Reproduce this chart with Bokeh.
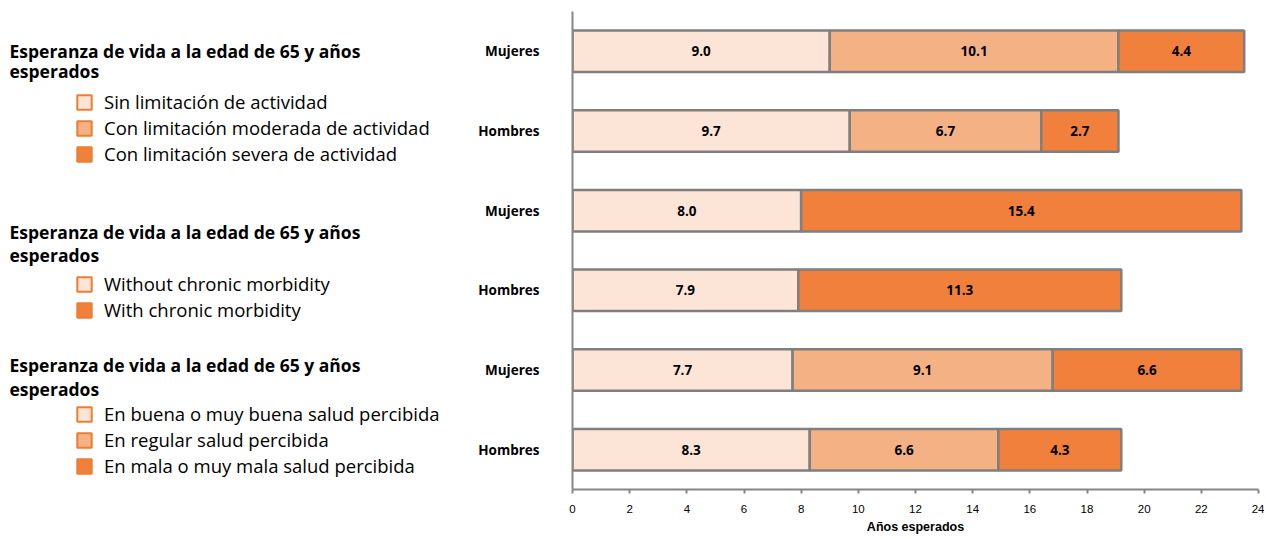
import numpy as np
from bokeh.plotting import figure
from bokeh.layouts import row
from bokeh.models import (ColumnDataSource, Label, Legend, LegendItem,
                          FixedTicker, Range1d)
from bokeh.core.properties import value
from bokeh.embed import file_html
from bokeh.resources import INLINE

# ---------------- data ----------------
LIGHT = "#FCE4D6"
MEDIUM = "#F4B183"
DARK = "#F0803C"
SWATCH_BORDER = "#ED7D31"
BAR_BORDER = "#7F7F7F"

group_title = ["Esperanza de vida a la edad de 65 y años", "esperados"]
sexes = ["Mujeres", "Hombres"]

act_labels = ["Sin limitación de actividad",
              "Con limitación moderada de actividad",
              "Con limitación severa de actividad"]
act_colors = [LIGHT, MEDIUM, DARK]
act_mujeres = [9.0, 10.1, 4.4]
act_hombres = [9.7, 6.7, 2.7]

chr_labels = ["Without chronic morbidity", "With chronic morbidity"]
chr_colors = [LIGHT, DARK]
chr_mujeres = [8.0, 15.4]
chr_hombres = [7.9, 11.3]

sal_labels = ["En buena o muy buena salud percibida",
              "En regular salud percibida",
              "En mala o muy mala salud percibida"]
sal_colors = [LIGHT, MEDIUM, DARK]
sal_mujeres = [7.7, 9.1, 6.6]
sal_hombres = [8.3, 6.6, 4.3]

x_ticks = list(range(0, 25, 2))
x_title = "Años esperados"

# ---------------- build rows ----------------
rows = [
    (sexes[0], act_mujeres, act_colors),
    (sexes[1], act_hombres, act_colors),
    (sexes[0], chr_mujeres, chr_colors),
    (sexes[1], chr_hombres, chr_colors),
    (sexes[0], sal_mujeres, sal_colors),
    (sexes[1], sal_hombres, sal_colors),
]
n = len(rows)
seg = dict(y=[], left=[], right=[], mid=[], color=[], text=[])
ypos = {}
for i, (lab, vals, cols) in enumerate(rows):
    y = n - 1 - i
    ypos[y] = lab
    v = np.array(vals)
    right = np.cumsum(v)
    left = right - v
    for l, r, val, c in zip(left, right, v, cols):
        seg["y"].append(y)
        seg["left"].append(float(l))
        seg["right"].append(float(r))
        seg["mid"].append(float((l + r) / 2))
        seg["color"].append(c)
        seg["text"].append(f"{val:.1f}")
src = ColumnDataSource(seg)

FONT = "Open Sans"
LEFT_W = 470
TOTAL_H = 537

# ---------------- chart ----------------
p = figure(frame_width=686, frame_height=478,
           min_border_left=102, min_border_right=6, min_border_top=11,
           min_border_bottom=48,
           x_range=Range1d(0, 24), y_range=Range1d(-0.5, n - 0.5),
           output_backend="svg", toolbar_location=None,
           background_fill_color="white", border_fill_color="white")
p.outline_line_color = None
p.grid.visible = False

p.hbar(y="y", left="left", right="right", height=0.52, source=src,
       fill_color="color", line_color=BAR_BORDER, line_width=2.5)
p.text(x="mid", y="y", text="text", source=src, text_align="center",
       text_baseline="middle", text_font=value(FONT),
       text_font_style="bold", text_font_size="13.5px", text_color="#000000")

xa = p.xaxis[0]
xa.ticker = FixedTicker(ticks=x_ticks)
xa.minor_tick_line_color = None
xa.axis_line_color = "#868686"
xa.axis_line_width = 2
xa.major_tick_line_color = "#868686"
xa.major_tick_line_width = 2
xa.major_tick_in = 0
xa.major_tick_out = 4
xa.major_label_standoff = 11
xa.major_label_text_font = "Liberation Sans"
xa.major_label_text_font_size = "11.5px"
xa.major_label_text_color = "#000000"
xa.axis_label = x_title
xa.axis_label_standoff = 4
xa.axis_label_text_font = "Liberation Sans"
xa.axis_label_text_font_style = "bold"
xa.axis_label_text_font_size = "12.5px"
xa.axis_label_text_color = "#000000"

ya = p.yaxis[0]
ya.ticker = FixedTicker(ticks=sorted(ypos.keys()))
ya.major_label_overrides = {k: v for k, v in ypos.items()}
ya.major_tick_line_color = None
ya.minor_tick_line_color = None
ya.axis_line_color = "#868686"
ya.axis_line_width = 2
ya.major_label_standoff = 27
ya.major_label_text_font = FONT
ya.major_label_text_font_style = "bold"
ya.major_label_text_font_size = "13.5px"
ya.major_label_text_color = "#000000"

# ---------------- legend panel ----------------
lp = figure(width=LEFT_W, height=TOTAL_H, min_border=0,
            x_range=Range1d(0, 1), y_range=Range1d(0, 1),
            x_axis_location=None, y_axis_location=None,
            output_backend="svg", toolbar_location=None,
            background_fill_color="white", border_fill_color="white")
lp.outline_line_color = None
lp.grid.visible = False

groups = [
    (act_labels, act_colors, (75, 323), (439, 419)),
    (chr_labels, chr_colors, (75, 167), (258, 235)),
    (sal_labels, sal_colors, (75, 11), (125, 101)),
]
for labels, colors, loc, tys in groups:
    items = []
    for lab, c in zip(labels, colors):
        # swatch-only renderer, its single point lies outside the panel range
        r = lp.rect(x=[5], y=[5], width=1, height=1, fill_color=c,
                    line_color=SWATCH_BORDER, line_width=2)
        items.append(LegendItem(label=lab, renderers=[r]))
    lg = Legend(items=items, location=loc, orientation="vertical",
                border_line_color=None, background_fill_alpha=0,
                padding=0, margin=0, spacing=1, glyph_width=18,
                glyph_height=18, label_standoff=11, label_height=20,
                label_text_font=FONT, label_text_font_size="18.5px",
                label_text_color="#000000", label_text_baseline="middle")
    lp.add_layout(lg)
    for t, ty in zip(group_title, tys):
        lp.add_layout(Label(x=9, y=ty, x_units="screen", y_units="screen",
                            text=t, text_font=FONT, text_font_style="bold",
                            text_font_size="17.5px", text_baseline="middle",
                            text_color="#000000"))

layout = row(lp, p)
open("out.html", "w").write(file_html(layout, INLINE))
